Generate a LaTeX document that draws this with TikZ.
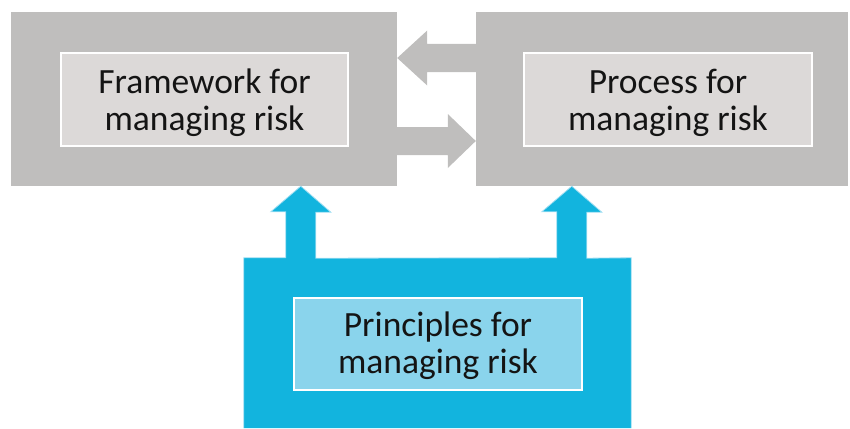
\documentclass[tikz,border=0pt]{standalone}
\usepackage{fontspec}
\setmainfont{Carlito}
\usetikzlibrary{calc}

\definecolor{boxgrey}{RGB}{191,190,189}
\definecolor{panelgrey}{RGB}{220,217,216}
\definecolor{riskblue}{RGB}{18,180,222}
\definecolor{panelblue}{RGB}{138,212,236}
\definecolor{edgeblue}{RGB}{160,222,242}

\begin{document}
\begin{tikzpicture}[x=1pt,y=-1pt,
  outerbox/.style={rectangle, inner sep=0pt},
  panel/.style={rectangle, inner sep=0pt, draw=white, line width=2pt,
    align=center, text=black!92, font=\fontsize{35.5}{37}\selectfont},
  greyarrow/.style={fill=boxgrey},
  bluearrow/.style={fill=riskblue, draw=edgeblue, line width=0.8pt, line join=miter}]
\useasboundingbox (0,0) rectangle (850,428);

% grey outer boxes
\node[outerbox, fill=boxgrey, minimum width=386pt, minimum height=174pt] (frameouter) at (204,99) {};
\node[outerbox, fill=boxgrey, minimum width=372pt, minimum height=174pt] (procouter) at (662,99) {};

% blue outer box (anchors only; filled together with its arrows)
\node[outerbox, minimum width=387pt, minimum height=170pt] (blueouter) at (437.5,343) {};

% grey block arrows between framework and process
\coordinate (tipL) at (frameouter.east |- 0,58);
\coordinate (tipR) at (procouter.west |- 0,141);
\fill[greyarrow] (tipL) -- ++(30,-27.5) -- ++(0,13.5) -- ++(49,0) -- ++(0,28)
  -- ++(-49,0) -- ++(0,13.5) -- cycle;
\fill[greyarrow] (tipR) -- ++(-28,-27) -- ++(0,13) -- ++(-51,0) -- ++(0,28)
  -- ++(51,0) -- ++(0,13) -- cycle;

% blue base with two upward block arrows
\coordinate (tipA) at ($(frameouter.south west)+(290,0)$);
\coordinate (tipB) at ($(procouter.south west)+(96,0)$);
\path[bluearrow] (blueouter.south west) -- (blueouter.north west)
  -- ($(tipA |- blueouter.north)+(-15,0)$) -- ++(0,-46) -- ++(-15,0) -- (tipA)
  -- ++(30,26) -- ++(-15,0) -- ++(0,46)
  -- ($(tipB |- blueouter.north)+(-15,0)$) -- ++(0,-46) -- ++(-15,0) -- (tipB)
  -- ++(30,26) -- ++(-15,0) -- ++(0,46)
  -- (blueouter.north east) -- (blueouter.south east);

% text panels (boxes drawn, then their labels placed a little below centre)
\node[panel, fill=panelgrey, minimum width=287pt, minimum height=93pt] (framework) at (204.5,99.5) {};
\node[panel, fill=panelgrey, minimum width=288pt, minimum height=93pt] (process) at (668,99.5) {};
\node[panel, fill=panelblue, minimum width=288pt, minimum height=92pt] (principles) at (438,344) {};
\node[panel, draw=none] (frameworktext) at ($(framework.center)+(0,3)$) {Framework for\\managing risk};
\node[panel, draw=none] (processtext) at ($(process.center)+(0,3)$) {Process for\\managing risk};
\node[panel, draw=none] (principlestext) at ($(principles.center)+(0,2)$) {Principles for\\managing risk};
\end{tikzpicture}
\end{document}
